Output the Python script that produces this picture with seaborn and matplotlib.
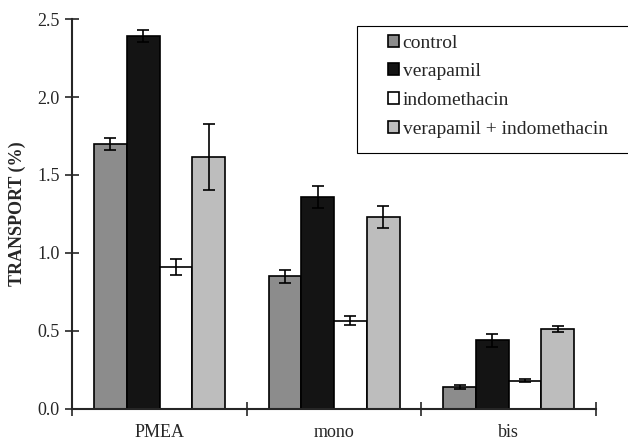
import numpy as np
import pandas as pd
import matplotlib
matplotlib.use("Agg")
import matplotlib.pyplot as plt
import matplotlib.patches as mpatches
import seaborn as sns

groups = ["PMEA", "mono", "bis"]
treatments = ["control", "verapamil", "indomethacin", "verapamil + indomethacin"]
control = [1.70, 0.85, 0.14]
verapamil = [2.39, 1.36, 0.44]
indomethacin = [0.91, 0.565, 0.18]
vera_indo = [1.615, 1.23, 0.51]
control_err = [0.04, 0.04, 0.01]
verapamil_err = [0.04, 0.07, 0.04]
indomethacin_err = [0.05, 0.03, 0.01]
vera_indo_err = [0.21, 0.07, 0.02]

colors = ["#8c8c8c", "#141414", "#ffffff", "#bdbdbd"]

vals = [control, verapamil, indomethacin, vera_indo]
errs = [control_err, verapamil_err, indomethacin_err, vera_indo_err]
df = pd.DataFrame({
    "group": [g for t in treatments for g in groups],
    "treatment": [t for t in treatments for g in groups],
    "value": [v for s in vals for v in s],
    "err": [e for s in errs for e in s],
})

sns.set_style("ticks")
plt.rcParams["font.family"] = ["Liberation Serif", "DejaVu Serif"]

fig = plt.figure(figsize=(6.28, 4.43), dpi=100)
ax = fig.add_axes([0.115, 0.077, 0.834, 0.88])

sns.barplot(data=df, x="group", y="value", hue="treatment", order=groups,
            hue_order=treatments, palette=colors, width=0.75, gap=0,
            edgecolor="black", linewidth=1.2, errorbar=None, ax=ax)

# error bars at bar centres
for i, t in enumerate(treatments):
    cont = ax.containers[i]
    xs = [p.get_x() + p.get_width() / 2 for p in cont.patches]
    sub = df[df.treatment == t].set_index("group").loc[groups]
    ax.errorbar(xs, sub["value"], yerr=sub["err"], fmt="none",
                ecolor="black", elinewidth=1.2, capsize=4, capthick=1.2)

ax.set_xlim(-0.5, 2.5)
ax.set_ylim(0, 2.5)
ax.set_yticks(np.arange(0, 2.51, 0.5))
ax.set_yticklabels([f"{v:.1f}" for v in np.arange(0, 2.51, 0.5)], fontsize=13)
ax.set_xticks(range(3))
ax.set_xticklabels(groups, fontsize=13)
ax.set_xticks([-0.5, 0.5, 1.5, 2.5], minor=True)
ax.tick_params(axis="x", which="major", length=0, pad=11)
ax.tick_params(axis="x", which="minor", direction="inout", length=10, width=1.2)
ax.tick_params(axis="y", direction="inout", length=10, width=1.2, pad=4)
ax.set_xlabel("")
ax.set_ylabel("TRANSPORT (%)", fontsize=13, fontweight="bold", labelpad=8)
sns.despine(ax=ax)
ax.spines["left"].set_linewidth(1.5)
ax.spines["bottom"].set_linewidth(1.5)

# legend box drawn separately so the left padding can be wider
frame = mpatches.Rectangle((0.5685, 0.6546), 0.45, 0.2867,
                           transform=fig.transFigure, facecolor="white",
                           edgecolor="black", linewidth=0.8, zorder=5,
                           clip_on=False)
ax.add_patch(frame)
leg = ax.legend(loc="upper left", bbox_to_anchor=(0.618, 0.922),
                bbox_transform=fig.transFigure, fontsize=14,
                handlelength=0.55, handleheight=0.55, handletextpad=0.2,
                labelspacing=0.6, borderpad=0, borderaxespad=0,
                frameon=False)
leg.set_zorder(6)

fig.savefig("out.png", dpi=100)
